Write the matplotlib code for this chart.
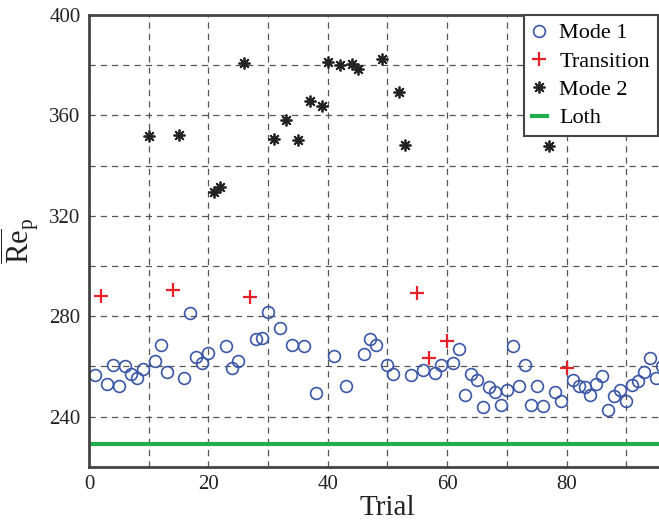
import numpy as np
import matplotlib.pyplot as plt

plt.rcParams['font.family'] = ['Liberation Serif', 'DejaVu Serif']
plt.rcParams['mathtext.fontset'] = 'custom'
plt.rcParams['mathtext.rm'] = 'Liberation Serif'
plt.rcParams['mathtext.it'] = 'Liberation Serif:italic'

# Mode 1 trials
trial_m1 = [1, 3, 4, 5, 6, 7, 8, 9, 11, 12, 13, 16, 17, 18, 19, 20, 23, 24, 25,
            28, 29, 30, 32, 34, 36, 38, 41, 43, 46, 47, 48, 50, 51, 54, 56, 58,
            59, 61, 62, 63, 64, 65, 66, 67, 68, 69, 70, 71, 72, 73, 74, 75, 76,
            78, 79, 81, 82, 83, 84, 85, 86, 87, 88, 89, 90, 91, 92, 93, 94, 95, 96]
re_m1 = [256.6, 253, 260.7, 252, 260.3, 257, 255.5, 259, 262.3, 268.6, 257.7,
         255.5, 281.3, 263.9, 261.5, 265.4, 268.2, 259.5, 262.3,
         270.7, 271.2, 281.8, 275.3, 268.4, 268, 249.3, 264.2, 252.1, 264.9,
         270.8, 268.4, 260.7, 257, 256.6, 258.6, 257.5,
         260.6, 261.5, 267, 248.6, 256.9, 254.6, 243.7, 251.6, 249.8, 244.7,
         250.6, 268.2, 252.1, 260.6, 244.7, 252.2, 244.3,
         249.7, 246, 254.5, 252, 251.7, 248.6, 252.9, 256, 242.7, 248.2, 250.4,
         246, 252.5, 254, 257.7, 263.5, 255.5, 260]

# Transition trials
trial_tr = [2, 14, 27, 55, 57, 60, 80]
re_tr = [288.2, 290.4, 287.6, 289.3, 263.5, 269.9, 259.3]

# Mode 2 trials
trial_m2 = [10, 15, 21, 22, 26, 31, 33, 35, 37, 39, 40, 42, 44, 45, 49, 52, 53, 77]
re_m2 = [351.9, 352, 329.6, 331.6, 380.8, 350.6, 358.2, 350.2, 365.8, 363.9,
         381.4, 380, 380.5, 378.5, 382.4, 369.2, 348.2, 347.8]

re_loth = 229

fig = plt.figure(figsize=(6.59, 5.21), dpi=100)
# axes run a bit past the right edge of the figure
ax = fig.add_axes([0.135, 0.1042, 0.906, 0.867])

ax.plot(trial_m1, re_m1, 'o', mfc='none', mec='#3a57a7', mew=1.2, ms=8.5, label='Mode 1')
ax.plot(trial_tr, re_tr, '+', color='#e8202a', mew=1.6, ms=10, label='Transition')
ax.plot(trial_m2, re_m2, ls='none', marker=(8, 2, 0), color='#222222', mew=1.3, ms=8.5,
        label='Mode 2')
ax.axhline(re_loth, color='#1fae4b', lw=3, label='Loth')

ax.set_xlim(0, 100)
ax.set_ylim(220, 400)
ax.set_xticks(np.arange(0, 81, 20))
ax.set_xticks(np.arange(0, 101, 10), minor=True)
ax.set_yticks(np.arange(240, 401, 40))
ax.set_yticks(np.arange(220, 401, 20), minor=True)
ax.grid(True, which='both', ls=(0, (5, 4)), color='#555555', lw=0.9)
ax.tick_params(which='both', length=0, labelsize=15, colors='#222222', pad=6)

for side in ['left', 'top', 'bottom']:
    ax.spines[side].set_color('#444444')
    ax.spines[side].set_linewidth(2)
ax.spines['right'].set_visible(False)

ax.set_xlabel('Trial', fontsize=21, color='#222222', labelpad=1)
ax.set_ylabel(r'$\overline{\mathrm{Re}}_{\mathrm{p}}$', fontsize=22, color='#222222',
              labelpad=6)

leg = ax.legend(loc='upper right', bbox_to_anchor=(0.998, 0.9712),
                bbox_transform=fig.transFigure, borderaxespad=0,
                fontsize=16, handlelength=0.7, handletextpad=0.55,
                labelspacing=0.35, borderpad=0.35, fancybox=False, framealpha=1)
leg.get_frame().set_edgecolor('#444444')
leg.get_frame().set_linewidth(1.5)
for h in leg.legend_handles[3:]:
    h.set_linewidth(3)

fig.savefig('out.png', dpi=100)
